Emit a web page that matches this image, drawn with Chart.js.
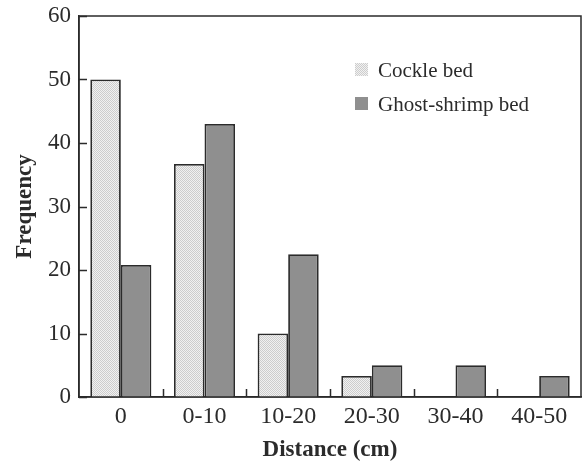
<!DOCTYPE html>
<html>
<head>
<meta charset="utf-8">
<script src="https://cdn.jsdelivr.net/npm/chart.js@4.4.1/dist/chart.umd.min.js"></script>
<style>
  html, body { margin: 0; padding: 0; background: #fff; }
  #wrap { width: 585px; height: 466px; }
</style>
</head>
<body>
<div id="wrap"><canvas id="chart"></canvas></div>
<script>
// data
const categories = ['0', '0-10', '10-20', '20-30', '30-40', '40-50'];
const cockleBed = [50, 36.7, 10, 3.3, 0, 0];
const ghostShrimpBed = [20.8, 43, 22.5, 5, 5, 3.3];
const yTicks = [0, 10, 20, 30, 40, 50, 60];

const serif = '"Liberation Serif", "Times New Roman", serif';
const ink = '#2b2b2b';
const tickLen = 8;

// fine stipple fill for the cockle bars
function makeStipple() {
    const c = document.createElement('canvas');
    c.width = 2;
    c.height = 2;
    const g = c.getContext('2d');
    g.fillStyle = '#f1f1f1';
    g.fillRect(0, 0, 2, 2);
    g.fillStyle = '#cdcdcd';
    g.fillRect(0, 0, 1, 1);
    g.fillRect(1, 1, 1, 1);
    return g.createPattern(c, 'repeat');
}
const stipple = makeStipple();

// box round the plot area + inward tick marks
const framePlugin = {
    id: 'frame',
    afterDraw(chart) {
        const a = chart.chartArea;
        const ctx = chart.ctx;
        const xs = chart.scales.x;
        const ys = chart.scales.y;
        ctx.save();
        ctx.strokeStyle = ink;
        ctx.lineWidth = 1.5;
        ctx.strokeRect(a.left, a.top, a.right - a.left, a.bottom - a.top);

        ctx.beginPath();
        // y ticks, pointing right
        yTicks.forEach(function (v) {
            const y = Math.round(ys.getPixelForValue(v)) + 0.5;
            ctx.moveTo(a.left, y);
            ctx.lineTo(a.left + tickLen, y);
        });
        // x ticks between categories, pointing up
        for (let i = 1; i < categories.length; i++) {
            const x = Math.round((xs.getPixelForValue(i - 1) + xs.getPixelForValue(i)) / 2) + 0.5;
            ctx.moveTo(x, a.bottom);
            ctx.lineTo(x, a.bottom - tickLen);
        }
        ctx.stroke();
        ctx.restore();
    }
};

// legend inside the plot, top right
const legendPlugin = {
    id: 'insideLegend',
    afterDraw(chart) {
        const ctx = chart.ctx;
        ctx.save();
        ctx.font = '21px ' + serif;
        ctx.textBaseline = 'alphabetic';
        ctx.textAlign = 'left';
        chart.data.datasets.forEach(function (ds, i) {
            const y = 63 + i * 34;
            ctx.fillStyle = ds.backgroundColor;
            ctx.fillRect(355, y, 13, 13);
            ctx.fillStyle = ink;
            ctx.fillText(ds.label, 378, y + 14);
        });
        ctx.restore();
    }
};

new Chart(document.getElementById('chart'), {
    type: 'bar',
    data: {
        labels: categories,
        datasets: [{
            label: 'Cockle bed',
            data: cockleBed,
            backgroundColor: stipple,
            borderColor: ink,
            borderWidth: 1.8
        }, {
            label: 'Ghost-shrimp bed',
            data: ghostShrimpBed,
            backgroundColor: '#8f8f8f',
            borderColor: ink,
            borderWidth: 1.8
        }]
    },
    options: {
        responsive: true,
        maintainAspectRatio: false,
        animation: false,
        layout: { padding: { left: 0, top: 16, right: 4, bottom: 0 } },
        datasets: {
            bar: { categoryPercentage: 0.73, barPercentage: 1 }
        },
        plugins: {
            legend: { display: false },
            tooltip: { enabled: false }
        },
        scales: {
            x: {
                grid: { display: false, drawTicks: false, tickLength: 0 },
                border: { color: ink, width: 1.5 },
                ticks: {
                    color: ink,
                    padding: 5,
                    font: { family: serif, size: 24 }
                },
                title: {
                    display: true,
                    text: 'Distance (cm)',
                    color: ink,
                    padding: { top: 0, bottom: 2 },
                    font: { family: serif, size: 23, weight: 'bold' }
                },
                afterFit(s) {
                    s.height = 69;
                    s.paddingLeft = 0;
                    s.paddingRight = 0;
                }
            },
            y: {
                min: 0,
                max: 60,
                afterBuildTicks(s) { s.ticks = yTicks.map(v => ({ value: v })); },
                grid: { display: false, drawTicks: false, tickLength: 0 },
                border: { color: ink, width: 1.5 },
                ticks: {
                    color: ink,
                    padding: 8,
                    font: { family: serif, size: 23 }
                },
                title: {
                    display: true,
                    text: 'Frequency',
                    color: ink,
                    padding: { top: 11, bottom: 0 },
                    font: { family: serif, size: 23, weight: 'bold' }
                },
                afterFit(s) {
                    s.width = 79;
                    s.paddingTop = 0;
                    s.paddingBottom = 0;
                }
            }
        }
    },
    plugins: [framePlugin, legendPlugin]
});
</script>
</body>
</html>
